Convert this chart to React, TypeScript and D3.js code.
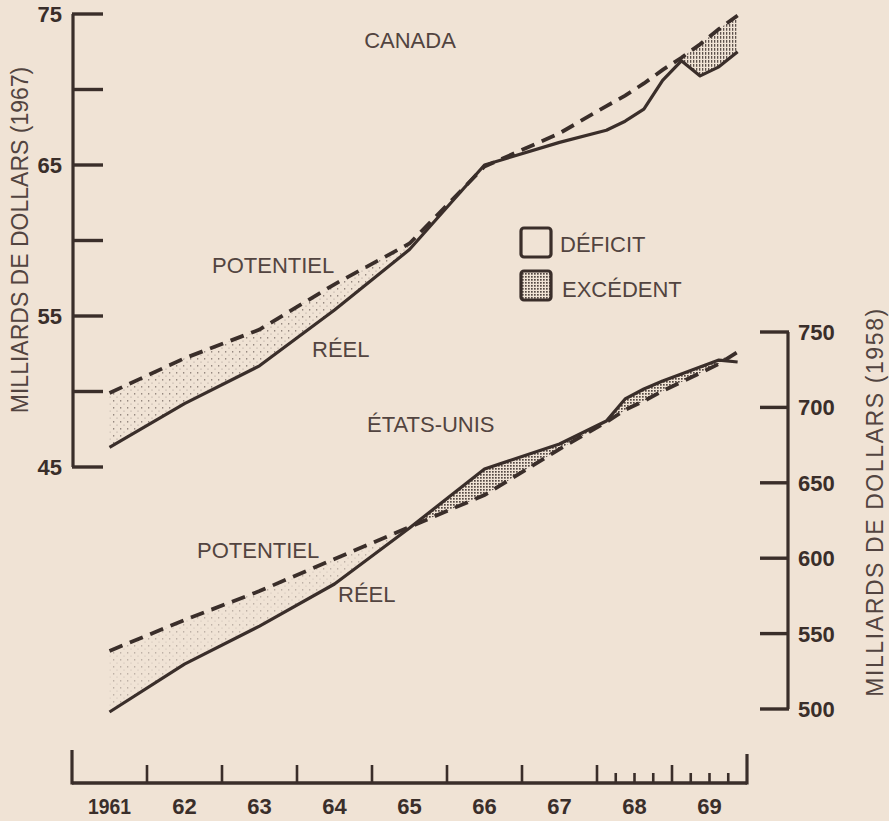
import React from 'react';
import * as d3 from 'd3';

// Periods: annual (mid-year) 1961-1967, quarterly (mid-quarter) 1968-1969
const periods = [1961.5, 1962.5, 1963.5, 1964.5, 1965.5, 1966.5, 1967.5,
  1968.125, 1968.375, 1968.625, 1968.875, 1969.125, 1969.375, 1969.625, 1969.875];
// Canada, milliards de dollars (1967)
const canadaReal = [46.3, 49.2, 51.7, 55.4, 59.4, 65.0, 66.5, 67.3, 67.9, 68.7, 70.6, 71.9, 70.9, 71.5, 72.5];
const canadaPotential = [49.9, 52.2, 54.1, 57.1, 59.8, 64.9, 67.1, 68.9, 69.6, 70.4, 71.3, 72.1, 73.0, 74.0, 74.9];
// États-Unis, milliards de dollars (1958)
const usReal = [498, 529.8, 555.0, 582.9, 620.0, 659.2, 675.7, 691.0, 705.6, 712.2, 717.5, 722.1, 726.8, 731.4, 730.1];
const usPotential = [538.5, 559.0, 578.2, 599.5, 620.7, 641.9, 672.4, 690.3, 698.3, 704.2, 710.9, 716.8, 722.8, 728.8, 736.7];

const yearLabels = ['1961', '62', '63', '64', '65', '66', '67', '68', '69'];
const canadaTicks = [45, 50, 55, 60, 65, 70, 75];
const canadaTickLabels = [45, 55, 65, 75];
const usTicks = [500, 550, 600, 650, 700, 750];
const quarterYears = [1968, 1969];

const W = 889, H = 821;
const INK = '#3a2e2a';
const TEXT = '#524440';
const BG = '#f0e3d5';
const FONT = '"Liberation Sans", Arial, Helvetica, sans-serif';

type Row = { t: number; cr: number; cp: number; ur: number; up: number };

export default function App() {
  const x = d3.scaleLinear().domain([1961, 1970]).range([72, 747]);
  const yC = d3.scaleLinear().domain([45, 75]).range([467, 14]);
  const yU = d3.scaleLinear().domain([500, 750]).range([709, 332]);

  const rows: Row[] = periods.map((t, i) => ({
    t, cr: canadaReal[i], cp: canadaPotential[i], ur: usReal[i], up: usPotential[i],
  }));

  const line = (y: any, key: keyof Row) =>
    d3.line<Row>().x(d => x(d.t)).y(d => y(d[key] as number))(rows) || '';

  const deficitArea = (y: any, r: keyof Row, p: keyof Row, data: Row[]) =>
    d3.area<Row>().x(d => x(d.t))
      .y0(d => y(d[p] as number))
      .y1(d => y(Math.min(d[r] as number, d[p] as number)))(data) || '';
  const surplusArea = (y: any, r: keyof Row, p: keyof Row, data: Row[]) =>
    d3.area<Row>().x(d => x(d.t))
      .y0(d => y(d[p] as number))
      .y1(d => y(Math.max(d[r] as number, d[p] as number)))(data) || '';

  const early = rows.filter(d => d.t <= 1965.6);
  const lateCanada = rows.filter(d => d.t >= 1969.1);
  const usSurplusRows = rows.filter(d => d.t >= 1965.4);

  const baseY = 783;
  const yearTicks = d3.range(1962, 1970);
  const quarterTicks = quarterYears.flatMap(yr => [yr + 0.25, yr + 0.5, yr + 0.75]);

  return (
    <svg width={W} height={H} style={{ position: 'absolute', left: 0, top: 0 }}
      fontFamily={FONT}>
      <defs>
        <pattern id="sparse" width="7" height="7" patternUnits="userSpaceOnUse">
          <rect x="1" y="1" width="1.3" height="1.6" fill={INK} opacity="0.5" />
          <rect x="4.5" y="4.5" width="1" height="1.3" fill={INK} opacity="0.3" />
        </pattern>
        <pattern id="dense" width="3" height="3" patternUnits="userSpaceOnUse">
          <rect x="0" y="0" width="1.7" height="1.7" fill={INK} opacity="0.85" />
        </pattern>
        <pattern id="streak" width="3" height="4" patternUnits="userSpaceOnUse">
          <rect x="0" y="0" width="1.3" height="2.8" fill={INK} opacity="0.8" />
        </pattern>
      </defs>
      <rect x={0} y={0} width={W} height={H} fill={BG} />

      {/* shaded areas */}
      <path d={deficitArea(yC, 'cr', 'cp', early)} fill="url(#sparse)" />
      <path d={deficitArea(yC, 'cr', 'cp', lateCanada)} fill="url(#streak)" />
      <path d={deficitArea(yU, 'ur', 'up', early)} fill="url(#sparse)" opacity="0.55" />
      <path d={surplusArea(yU, 'ur', 'up', usSurplusRows)} fill="url(#dense)" />

      {/* lines */}
      <path d={line(yC, 'cp')} fill="none" stroke={INK} strokeWidth={3.8} strokeDasharray="14 8" />
      <path d={line(yC, 'cr')} fill="none" stroke={INK} strokeWidth={3.2} strokeLinejoin="round" />
      <path d={line(yU, 'up')} fill="none" stroke={INK} strokeWidth={3.8} strokeDasharray="14 8" />
      <path d={line(yU, 'ur')} fill="none" stroke={INK} strokeWidth={3.2} strokeLinejoin="round" />

      {/* left axis (Canada) */}
      <line x1={73} x2={73} y1={yC(75)} y2={yC(45)} stroke={INK} strokeWidth={3.2} />
      {canadaTicks.map(v => (
        <line key={v} x1={72} x2={103} y1={yC(v)} y2={yC(v)} stroke={INK} strokeWidth={3.4} />
      ))}
      {canadaTickLabels.map(v => (
        <text key={v} x={62} y={yC(v)} dy="0.36em" textAnchor="end" fontWeight="bold"
          fontSize={22} fill={INK}>{v}</text>
      ))}
      <text transform={`translate(28,240) rotate(-90)`} textAnchor="middle" fontSize={23}
        fill={TEXT}>MILLIARDS DE DOLLARS (1967)</text>

      {/* right axis (United States) */}
      <line x1={788} x2={788} y1={yU(750)} y2={yU(500)} stroke={INK} strokeWidth={3.2} />
      {usTicks.map(v => (
        <line key={v} x1={760} x2={789} y1={yU(v)} y2={yU(v)} stroke={INK} strokeWidth={3.4} />
      ))}
      {usTicks.map(v => (
        <text key={v} x={798} y={yU(v)} dy="0.36em" fontWeight="bold" fontSize={22}
          fill={INK}>{v}</text>
      ))}
      <text transform={`translate(883,502) rotate(-90)`} textAnchor="middle" fontSize={23}
        letterSpacing={1.6} fill={TEXT}>MILLIARDS DE DOLLARS (1958)</text>

      {/* bottom axis */}
      <line x1={x(1961)} x2={x(1970)} y1={baseY} y2={baseY} stroke={INK} strokeWidth={3.4} />
      <line x1={x(1961)} x2={x(1961)} y1={baseY + 1.5} y2={750} stroke={INK} strokeWidth={3.2} />
      <line x1={x(1970)} x2={x(1970)} y1={baseY + 1.5} y2={754} stroke={INK} strokeWidth={3.2} />
      {yearTicks.map(t => (
        <line key={t} x1={x(t)} x2={x(t)} y1={baseY} y2={765} stroke={INK} strokeWidth={2.6} />
      ))}
      {quarterTicks.map(t => (
        <line key={t} x1={x(t)} x2={x(t)} y1={baseY} y2={773} stroke={INK} strokeWidth={2.6} />
      ))}
      {yearLabels.map((lab, i) => (
        <text key={lab} x={x(1961 + i + 0.5)} y={814} textAnchor="middle" fontWeight="bold"
          fontSize={22} fill={INK}
          {...(lab.length > 2 ? { textLength: 43, lengthAdjust: 'spacingAndGlyphs' } : {})}>{lab}</text>
      ))}

      {/* annotations */}
      <text x={410} y={48} textAnchor="middle" fontSize={22} fill={TEXT}>CANADA</text>
      <text x={212} y={273} fontSize={22} fill={TEXT}>POTENTIEL</text>
      <text x={312} y={357} fontSize={22} fill={TEXT}>RÉEL</text>
      <text x={367} y={432} fontSize={22} fill={TEXT}>ÉTATS-UNIS</text>
      <text x={197} y={558} fontSize={22} fill={TEXT}>POTENTIEL</text>
      <text x={338} y={602} fontSize={22} fill={TEXT}>RÉEL</text>

      {/* legend */}
      <rect x={521} y={228} width={30} height={29} rx={3} fill="none" stroke={INK} strokeWidth={3.2} />
      <rect x={521} y={271} width={30} height={29} rx={3} fill="url(#dense)" stroke={INK} strokeWidth={3.2} />
      <text x={560} y={252} fontSize={22} fill={TEXT}>DÉFICIT</text>
      <text x={562} y={297} fontSize={22} fill={TEXT}>EXCÉDENT</text>
    </svg>
  );
}
